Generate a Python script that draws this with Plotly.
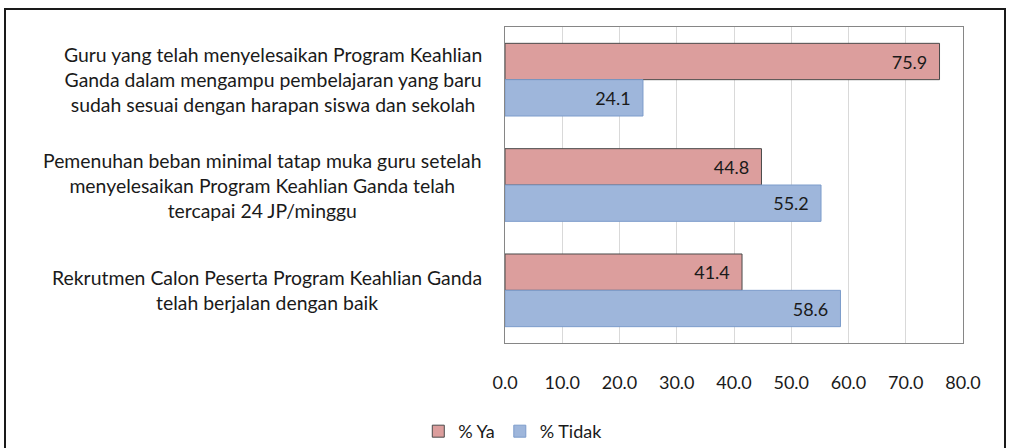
import plotly.graph_objects as go

categories = [
    "Guru yang telah menyelesaikan Program Keahlian<br>Ganda dalam mengampu pembelajaran yang baru<br>sudah sesuai dengan harapan siswa dan sekolah",
    "Pemenuhan beban minimal tatap muka guru setelah<br>menyelesaikan Program Keahlian Ganda telah<br>tercapai 24 JP/minggu",
    "Rekrutmen Calon Peserta Program Keahlian Ganda<br>telah berjalan dengan baik",
]
cat_keys = ["c1", "c2", "c3"]
ya = [75.9, 44.8, 41.4]
tidak = [24.1, 55.2, 58.6]
tick_vals = [0, 10, 20, 30, 40, 50, 60, 70, 80]

FONT = "Lato"
PAD = "\u00a0\u00a0"

fig = go.Figure()
fig.add_trace(go.Bar(
    y=cat_keys, x=ya, orientation="h", name="% Ya",
    marker=dict(color="#DC9E9D", line=dict(color="#4A4A4A", width=1)),
    text=[f"{v:.1f}{PAD}" for v in ya], textposition="inside", insidetextanchor="end",
    textfont=dict(family=FONT, size=18, color="#1a1a1a"),
))
fig.add_trace(go.Bar(
    y=cat_keys, x=tidak, orientation="h", name="% Tidak",
    marker=dict(color="#9EB6DB", line=dict(color="#7C9CCB", width=1)),
    text=[f"{v:.1f}{PAD}" for v in tidak], textposition="inside", insidetextanchor="end",
    textfont=dict(family=FONT, size=18, color="#1a1a1a"),
))

# category labels as centred multi-line annotations
for key, lab in zip(cat_keys, categories):
    fig.add_annotation(x=-0.045, xref="paper", y=key, yref="y", text=lab,
                       showarrow=False, xanchor="right", align="center",
                       font=dict(family=FONT, size=19.4, color="#1a1a1a"))

# outer chart border
fig.add_shape(type="rect", xref="paper", yref="paper",
              x0=-1.0917, x1=1.0917, y0=-0.40, y1=1.057,
              line=dict(color="#1a1a1a", width=2))

fig.update_layout(
    width=1010, height=448,
    margin=dict(l=505, r=47, t=27, b=105, autoexpand=False),
    paper_bgcolor="white", plot_bgcolor="white",
    barmode="group", bargap=0.31, bargroupgap=0,
    font=dict(family=FONT, size=17, color="#1a1a1a"),
    legend=dict(orientation="h", x=0.017, xanchor="center", y=-0.28, yanchor="middle",
                font=dict(family=FONT, size=18), traceorder="normal", itemwidth=30),
    showlegend=True,
)
fig.update_xaxes(range=[0, 80], tickvals=tick_vals, tickformat=".1f",
                 showgrid=True, gridcolor="#D9D9D9", gridwidth=1,
                 showline=True, linecolor="#868686", mirror=True, zeroline=False,
                 ticks="", ticklabelstandoff=23, tickfont=dict(family=FONT, size=18))
fig.update_yaxes(autorange="reversed", showticklabels=False, showline=True,
                 linecolor="#868686", mirror=True, showgrid=False)

fig.write_html("out.html", config={"displayModeBar": False},
               post_script="document.body.style.margin='0';")
